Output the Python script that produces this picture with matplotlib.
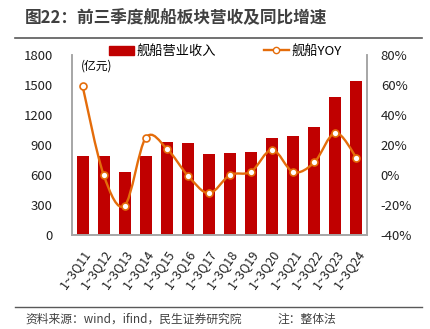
import numpy as np
import matplotlib
matplotlib.use('Agg')
import matplotlib.pyplot as plt
from matplotlib.path import Path
from matplotlib.patches import PathPatch
from matplotlib.lines import Line2D
from matplotlib.patches import Patch

plt.rcParams['font.family'] = ['Noto Sans CJK SC', 'DejaVu Sans']

periods = ['1~3Q11', '1~3Q12', '1~3Q13', '1~3Q14', '1~3Q15', '1~3Q16', '1~3Q17',
           '1~3Q18', '1~3Q19', '1~3Q20', '1~3Q21', '1~3Q22', '1~3Q23', '1~3Q24']
revenue = [790, 790, 630, 790, 930, 920, 810, 820, 830, 970, 990, 1080, 1380, 1540]
yoy = [59.5, 0.2, -20.4, 24.7, 17.6, -0.4, -12.2, 0.0, 2.2, 16.9, 2.0, 8.4, 28.2, 11.6]

red = '#C00000'
orange = '#E46C0A'
grey = '#A6A6A6'

fig = plt.figure(figsize=(4.30, 3.29), dpi=100)
ax = fig.add_axes([0.1674, 0.2857, 0.686, 0.5471])
ax2 = ax.twinx()

x = np.arange(len(periods))
ax.bar(x, revenue, width=0.57, color=red, zorder=2)
ax.set_xlim(-0.5, len(periods) - 0.5)
ax.set_ylim(0, 1800)
ax.set_yticks(np.arange(0, 1801, 300))
ax2.set_ylim(-40, 80)
ax2.set_yticks(np.arange(-40, 81, 20))
ax2.set_yticklabels([f'{v}%' for v in range(-40, 81, 20)])

# smooth line (Catmull-Rom -> cubic Bezier), like Excel's smoothed line
pts = np.column_stack([x, yoy]).astype(float)
verts = [tuple(pts[0])]
codes = [Path.MOVETO]
n = len(pts)
for i in range(n - 1):
    p0 = pts[i - 1] if i > 0 else pts[i]
    p1 = pts[i]
    p2 = pts[i + 1]
    p3 = pts[i + 2] if i + 2 < n else pts[i + 1]
    c1 = p1 + (p2 - p0) / 6.0
    c2 = p2 - (p3 - p1) / 6.0
    verts += [tuple(c1), tuple(c2), tuple(p2)]
    codes += [Path.CURVE4] * 3
ax2.add_patch(PathPatch(Path(verts, codes), facecolor='none', edgecolor=orange,
                        lw=1.7, zorder=3, transform=ax2.transData))
ax2.plot(x, yoy, ls='none', marker='o', ms=5, mfc='white', mec=orange, mew=1.2, zorder=4)

ax.set_xticks(x)
ax.set_xticklabels(periods, rotation=55, ha='right', rotation_mode='anchor', fontsize=9)
for a in (ax, ax2):
    a.tick_params(length=0, labelsize=9.5, colors='#222222')
    a.spines['top'].set_visible(False)
    for s in ('left', 'right', 'bottom'):
        a.spines[s].set_color(grey)
        a.spines[s].set_linewidth(1.2)
ax.tick_params(axis='y', pad=14)
ax2.tick_params(axis='y', pad=10)
ax.tick_params(axis='x', pad=9, labelsize=9)

ax.text(0.03, 0.975, '(亿元)', transform=ax.transAxes, fontsize=8.5, va='top', ha='left')

handles = [Patch(color=red),
           Line2D([0], [0], color=orange, lw=1.7, marker='o', ms=4.5, mfc='white', mec=orange)]
leg = ax.legend(handles, ['舰船营业收入', '舰船YOY'], loc='lower center', bbox_to_anchor=(0.52, 0.955),
                ncol=2, frameon=False, fontsize=9.5, columnspacing=3.6, handlelength=1.9,
                handletextpad=0.2, borderaxespad=0)

fig.text(0.058, 0.945, '图22：前三季度舰船板块营收及同比增速', fontsize=12, fontweight='bold',
         color='#404040', va='center', ha='left')
fig.add_artist(Line2D([0.035, 0.982], [0.885, 0.885], color='#595959', lw=1.2))
fig.add_artist(Line2D([0.035, 0.982], [0.067, 0.067], color='#595959', lw=1.0))
fig.text(0.058, 0.030, '资料来源：wind，ifind，民生证券研究院', fontsize=8.5, color='#404040', va='center')
fig.text(0.645, 0.030, '注：整体法', fontsize=8.5, color='#404040', va='center')

fig.savefig('out.png', dpi=100)
